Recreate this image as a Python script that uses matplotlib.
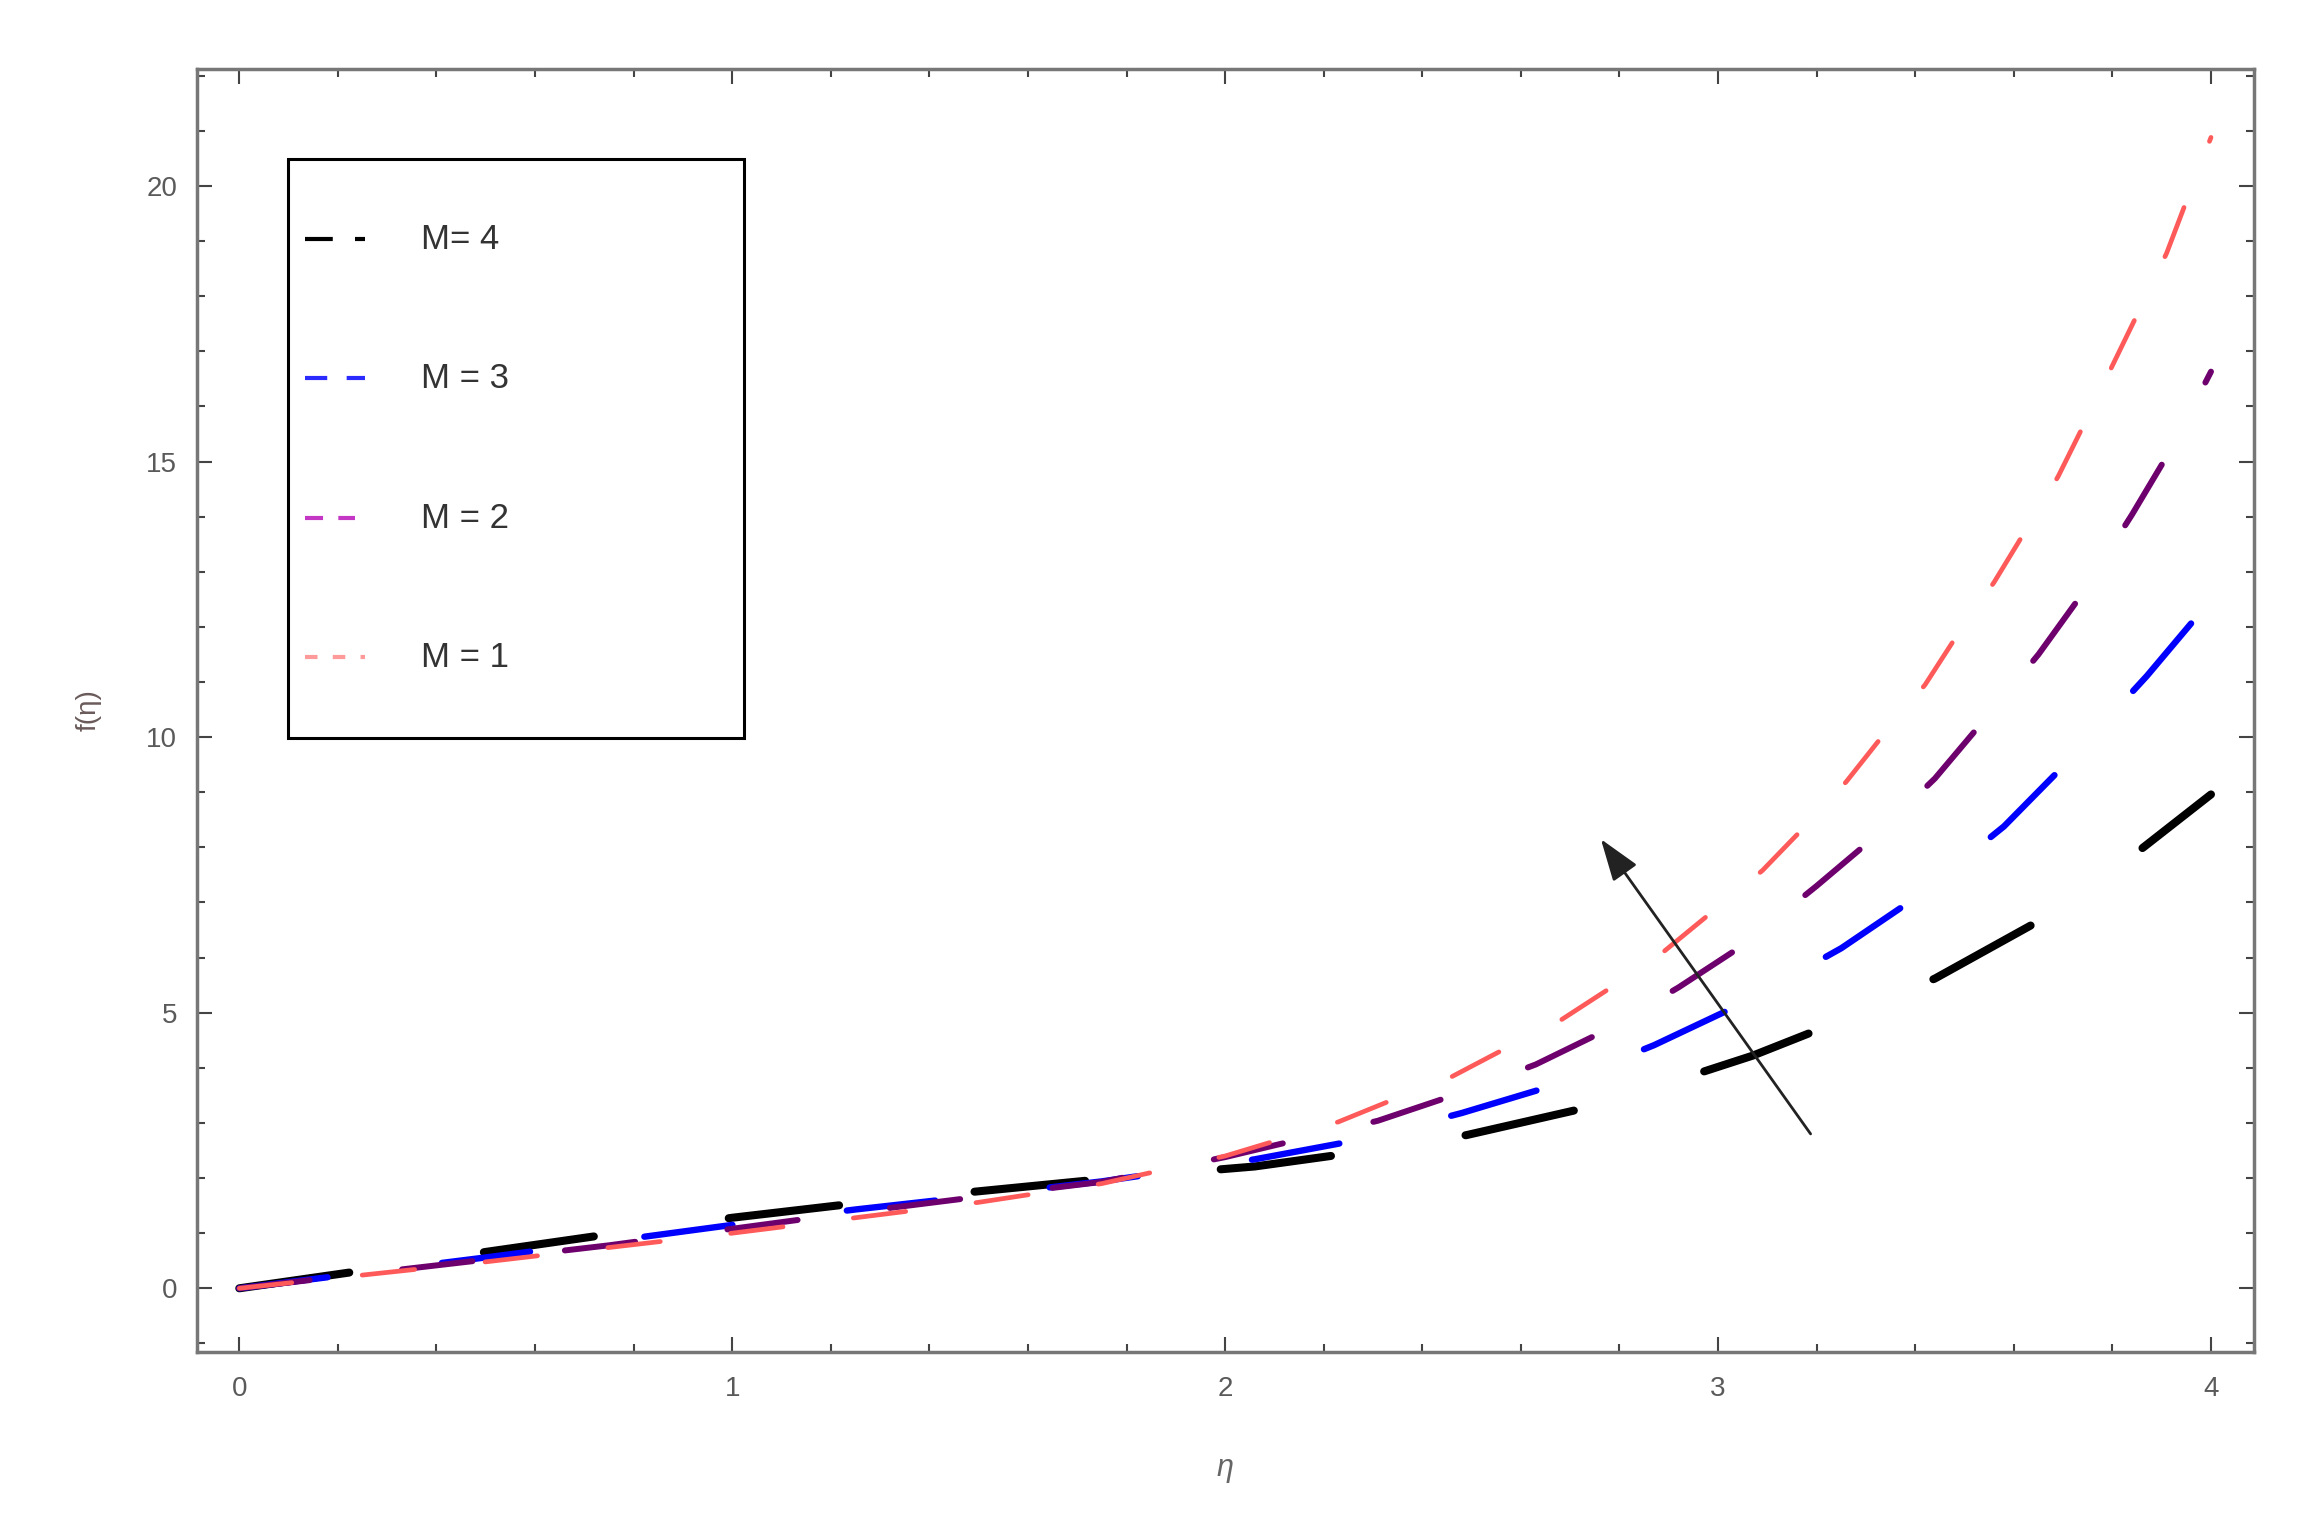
import matplotlib
matplotlib.use('Agg')
import matplotlib.pyplot as plt
from matplotlib.lines import Line2D
from matplotlib.patches import Rectangle, FancyArrowPatch

plt.rcParams['font.family'] = ['Liberation Sans', 'DejaVu Sans']
plt.rcParams['lines.scale_dashes'] = False

# values
eta_m1 = [0, 0.25, 0.5, 0.75, 1.0, 1.25, 1.5, 1.75, 2.0, 2.23, 2.34, 2.46, 2.56, 2.68, 2.78,
          2.89, 2.98, 3.09, 3.17, 3.26, 3.33, 3.42, 3.48, 3.56, 3.62, 3.69, 3.74, 3.80, 3.85,
          3.91, 3.95, 4.0]
f_m1 = [0, 0.24, 0.48, 0.74, 1.0, 1.28, 1.56, 1.90, 2.40, 3.02, 3.42, 3.84, 4.31, 4.86, 5.44,
        6.11, 6.77, 7.58, 8.32, 9.19, 9.98, 10.95, 11.78, 12.81, 13.69, 14.73, 15.63, 16.74, 17.66,
        18.78, 19.72, 20.88]

eta_m2 = [0, 0.25, 0.5, 0.75, 1.0, 1.25, 1.5, 1.75, 2.0, 2.31, 2.46, 2.63, 2.77, 2.92, 3.05,
          3.20, 3.31, 3.44, 3.54, 3.65, 3.73, 3.84, 3.92, 4.0]
f_m2 = [0, 0.26, 0.52, 0.78, 1.08, 1.38, 1.66, 1.93, 2.38, 3.04, 3.49, 4.06, 4.67, 5.46, 6.22,
        7.30, 8.13, 9.25, 10.31, 11.50, 12.49, 14.04, 15.24, 16.63]

eta_m3 = [0, 0.25, 0.5, 0.75, 1.0, 1.25, 1.5, 1.75, 2.06, 2.27, 2.48, 2.67, 2.87, 3.05, 3.25,
          3.40, 3.58, 3.72, 3.87, 4.0]
f_m3 = [0, 0.28, 0.56, 0.85, 1.15, 1.43, 1.68, 1.94, 2.34, 2.69, 3.18, 3.69, 4.41, 5.17, 6.17,
        7.08, 8.38, 9.65, 11.11, 12.49]

eta_m4 = [0, 0.25, 0.5, 0.75, 1.0, 1.25, 1.5, 1.75, 2.06, 2.23, 2.49, 2.73, 2.97, 3.07, 3.20,
          3.44, 3.65, 3.86, 4.0]
f_m4 = [0, 0.32, 0.66, 0.98, 1.28, 1.54, 1.76, 1.98, 2.21, 2.42, 2.78, 3.27, 3.93, 4.22, 4.68,
        5.62, 6.66, 7.98, 8.96]

labels = ['M= 4', 'M = 3', 'M = 2', 'M = 1']
x_ticks = [0, 1, 2, 3, 4]
y_ticks = [0, 5, 10, 15, 20]
arrow_tail = (3.191, 2.76)
arrow_head = (2.759, 8.19)

fig = plt.figure(figsize=(23.14, 15.21), dpi=100)
ax = fig.add_axes([0.0850, 0.1111, 0.8891, 0.8435])

# curves: black, blue, purple, red (red drawn last)
ax.plot(eta_m4, f_m4, color='black', lw=5.8, linestyle=(0, (80, 98)), dash_capstyle='round')
ax.plot(eta_m3, f_m3, color='#0000ff', lw=4.6, linestyle=(0, (64, 83)), dash_capstyle='round')
ax.plot(eta_m2, f_m2, color='#6e006e', lw=4.3, linestyle=(0, (51, 67)), dash_capstyle='round')
ax.plot(eta_m1, f_m1, color='#ff5a5a', lw=3.4, linestyle=(0, (38, 51)), dash_capstyle='round')

ax.add_patch(FancyArrowPatch(arrow_tail, arrow_head,
                             arrowstyle='-|>,head_length=1.3,head_width=0.45',
                             mutation_scale=20, lw=2.0, color='#222222', zorder=5))

ax.set_xlim(-0.0864, 4.0874)
ax.set_ylim(-1.156, 22.12)

ax.set_xticks(x_ticks)
ax.set_xticks([i * 0.2 for i in range(21)], minor=True)
ax.set_yticks(y_ticks)
ax.set_yticks(list(range(-1, 23)), minor=True)

ax.tick_params(which='both', direction='in', top=True, right=True,
               color='#444444', width=1.5, labelsize=20, labelcolor='#5a5a5a')
ax.tick_params(which='major', length=11)
ax.tick_params(which='minor', length=6)
ax.tick_params(axis='x', pad=17)
ax.tick_params(axis='y', pad=14)

for s in ax.spines.values():
    s.set_color('#777777')
    s.set_linewidth(2.5)

ax.set_xlabel('η', fontsize=22, color='#666666', style='italic')
ax.xaxis.set_label_coords(0.5, -0.0904)
ax.xaxis.label.set_va('center')
ax.set_ylabel('f(η)', fontsize=20, color='#6a5a5a')
ax.yaxis.set_label_coords(-0.0526, 0.5)
ax.yaxis.label.set_va('center')

# legend box drawn by hand to match the Mathematica placement
ax.add_patch(Rectangle((0.0444, 0.4786), 0.2216, 0.4513, transform=ax.transAxes,
                       fill=False, edgecolor='black', lw=2.2, zorder=6))
leg_y = [0.8675, 0.7591, 0.6500, 0.5417]
leg_col = ['black', '#2b2bff', '#c437c4', '#ff9a9a']
leg_dash = [(0, (20, 16, 9, 40)), (0, (16, 14, 15, 40)), (0, (13, 11, 12, 40)),
            (0, (9, 11, 9, 11, 9, 40))]
leg_end = [0.0819, 0.0819, 0.0771, 0.0819]
for yy, c, d, xe, lab in zip(leg_y, leg_col, leg_dash, leg_end, labels):
    ax.add_line(Line2D([0.0527, xe], [yy, yy], transform=ax.transAxes, color=c,
                       lw=3.0, linestyle=d, zorder=6))
    ax.text(0.1090, yy, lab, transform=ax.transAxes, fontsize=25, color='#333333',
            ha='left', va='center', zorder=6)

fig.savefig('out.png', dpi=100)
plt.close(fig)
